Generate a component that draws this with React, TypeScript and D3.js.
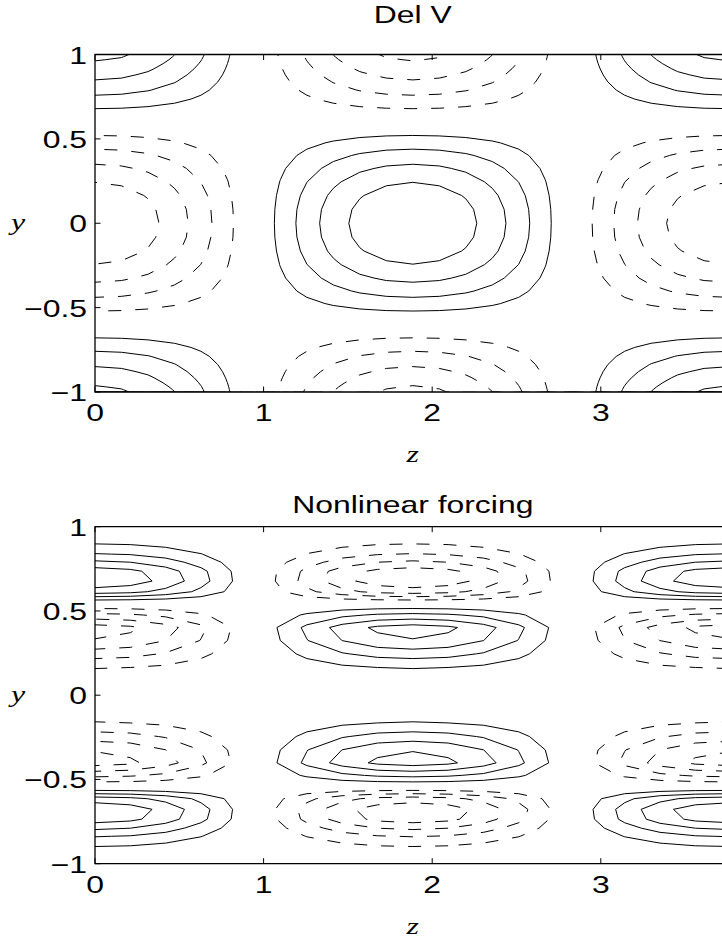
import React from "react";
import * as d3 from "d3";

// ---- data ----
const Z_MAX = 1.2 * Math.PI; // axis length in z (pattern centres at 0, 1.885, 3.77)
const PERIOD = 1.2 * Math.PI; // wavelength of the pattern in z
const LEVELS = [-0.8, -0.6, -0.4, -0.2, 0.2, 0.4, 0.6, 0.8];

// Del V : value along z = 0 as a function of |y|
const TOP_Y = [0, 0.1, 0.2, 0.243, 0.351, 0.44, 0.52, 0.6, 0.679, 0.758, 0.849, 0.962, 1.0];
const TOP_V = [-1, -0.966, -0.865, -0.8, -0.6, -0.4, -0.2, 0, 0.2, 0.4, 0.6, 0.8, 0.853];

// Nonlinear forcing : value along z = 0 as a function of |y|
const BOT_Y = [0, 0.1, 0.16, 0.219, 0.272, 0.33, 0.395, 0.427, 0.45, 0.487, 0.522, 0.545, 0.569, 0.582, 0.6, 0.634, 0.705, 0.757, 0.797, 0.84, 0.897, 0.95, 1.0];
const BOT_V = [0, -0.078, -0.2, -0.4, -0.6, -0.8, -0.9, -0.8, -0.6, -0.4, -0.2, 0, 0.2, 0.4, 0.6, 0.8, 1.0, 0.8, 0.6, 0.4, 0.2, 0.07, 0];

const TOP_NZ = 25;
const BOT_NZ = 19;
const NY = 39;

const Y_TICKS = [-1, -0.5, 0, 0.5, 1];
const Y_TICK_LABELS = ["\u22121", "\u22120.5", "0", "0.5", "1"];
const Z_TICKS = [0, 1, 2, 3];
const Z_TICK_LABELS = ["0", "1", "2", "3"];
const TITLES = ["Del V", "Nonlinear forcing"];

// ---- helpers ----
function makeInterp(xs: number[], ys: number[], s0: number | null, s1: number | null) {
  const n = xs.length;
  const d: number[] = [];
  for (let i = 0; i < n - 1; i++) d.push((ys[i + 1] - ys[i]) / (xs[i + 1] - xs[i]));
  const m: number[] = new Array(n).fill(0);
  m[0] = s0 === null ? d[0] : s0;
  m[n - 1] = s1 === null ? d[n - 2] : s1;
  for (let i = 1; i < n - 1; i++) {
    m[i] = d[i - 1] * d[i] <= 0 ? 0 : (d[i - 1] + d[i]) / 2;
  }
  for (let i = 0; i < n - 1; i++) {
    if (d[i] === 0) { m[i] = 0; m[i + 1] = 0; continue; }
    const a = m[i] / d[i], b = m[i + 1] / d[i];
    const s = a * a + b * b;
    if (s > 9) {
      const t = 3 / Math.sqrt(s);
      m[i] = t * a * d[i];
      m[i + 1] = t * b * d[i];
    }
  }
  return (x: number) => {
    if (x <= xs[0]) return ys[0];
    if (x >= xs[n - 1]) return ys[n - 1];
    let i = 0;
    while (i < n - 2 && x > xs[i + 1]) i++;
    const h = xs[i + 1] - xs[i];
    const t = (x - xs[i]) / h;
    const t2 = t * t, t3 = t2 * t;
    return (2 * t3 - 3 * t2 + 1) * ys[i] + (t3 - 2 * t2 + t) * h * m[i] + (-2 * t3 + 3 * t2) * ys[i + 1] + (t3 - t2) * h * m[i + 1];
  };
}

const yNodes = d3.range(NY).map((j) => Math.cos((Math.PI * j) / (NY - 1)));

function buildGrid(nz: number, prof: (y: number) => number) {
  const vals: number[] = new Array(nz * NY);
  const dz = Z_MAX / (nz - 1);
  for (let j = 0; j < NY; j++) {
    const p = prof(Math.abs(yNodes[j]));
    for (let i = 0; i < nz; i++) {
      vals[i + j * nz] = Math.cos((2 * Math.PI * i * dz) / PERIOD) * p;
    }
  }
  return vals;
}

function yAtIndex(f: number) {
  if (f <= 0) return yNodes[0] + (yNodes[1] - yNodes[0]) * f;
  if (f >= NY - 1) return yNodes[NY - 1] + (yNodes[NY - 1] - yNodes[NY - 2]) * (f - (NY - 1));
  const j = Math.floor(f);
  return yNodes[j] + (yNodes[j + 1] - yNodes[j]) * (f - j);
}

const W = 722;
const H = 943;
const X0 = 95;
const PX_PER_Z = 168.6;
const SX = 1.33; // horizontal stretch of the text in the picture
const PANELS = [
  { top: 54.5, h: 337.5, nz: TOP_NZ, ys: TOP_Y, vs: TOP_V, titleY: 23, tickLabelY: 421, zLabelY: 462, yLabelY: 230 },
  { top: 526.7, h: 337, nz: BOT_NZ, ys: BOT_Y, vs: BOT_V, titleY: 513, tickLabelY: 893, zLabelY: 934, yLabelY: 702 },
];

const FONT = "'Liberation Sans', Arial, Helvetica, sans-serif";
const SERIF = "'Liberation Serif', 'Times New Roman', serif";

function T({ x, y, anchor, serif, children }: { x: number; y: number; anchor: string; serif?: boolean; children: React.ReactNode }) {
  return (
    <text
      transform={`translate(${x},${y}) scale(${SX},1)`}
      textAnchor={anchor}
      fontFamily={serif ? SERIF : FONT}
      fontStyle={serif ? "italic" : "normal"}
      fontSize={24}
      fill="#000"
    >
      {children}
    </text>
  );
}

function Panel({ p, idx }: { p: typeof PANELS[0]; idx: number }) {
  const x = d3.scaleLinear().domain([0, Z_MAX]).range([X0, X0 + Z_MAX * PX_PER_Z]);
  const y = d3.scaleLinear().domain([-1, 1]).range([p.top + p.h, p.top]);
  const prof = makeInterp(p.ys, p.vs, 0, null);
  const vals = buildGrid(p.nz, prof);
  const dz = Z_MAX / (p.nz - 1);
  const contours = d3.contours().size([p.nz, NY]).thresholds(LEVELS)(vals);
  const clipId = `clip${idx}`;
  const paths = contours.map((c) => {
    let d = "";
    for (const poly of c.coordinates) {
      for (const ring of poly) {
        ring.forEach((pt, k) => {
          const zz = (pt[0] - 0.5) * dz;
          const yy = yAtIndex(pt[1] - 0.5);
          d += (k === 0 ? "M" : "L") + x(zz).toFixed(2) + "," + y(yy).toFixed(2);
        });
      }
    }
    return { d, value: c.value };
  });
  const x1 = x(Z_MAX);
  const yT = p.top, yB = p.top + p.h;
  const tick = 5.5;
  const xc = (X0 + x1) / 2;
  return (
    <g>
      <defs>
        <clipPath id={clipId}>
          <rect x={X0} y={yT} width={x1 - X0} height={p.h} />
        </clipPath>
      </defs>
      <g clipPath={`url(#${clipId})`}>
        {paths.map((pp, i) => (
          <path key={i} d={pp.d} fill="none" stroke="#000" strokeWidth={1}
            strokeDasharray={pp.value < 0 ? "13,14" : undefined} />
        ))}
      </g>
      {/* frame */}
      <path d={`M${x1},${yT}H${X0}V${yB}H${x1}V${yT}`} fill="none" stroke="#000" strokeWidth={1.3} />
      {Y_TICKS.map((t) => (
        <g key={"y" + t}>
          <line x1={X0} x2={X0 + tick} y1={y(t)} y2={y(t)} stroke="#000" strokeWidth={1} />
          <line x1={x1} x2={x1 - tick} y1={y(t)} y2={y(t)} stroke="#000" strokeWidth={1} />
        </g>
      ))}
      {Z_TICKS.map((t) => (
        <g key={"z" + t}>
          <line x1={x(t)} x2={x(t)} y1={yB} y2={yB - tick} stroke="#000" strokeWidth={1} />
          <line x1={x(t)} x2={x(t)} y1={yT} y2={yT + tick} stroke="#000" strokeWidth={1} />
        </g>
      ))}
      {Y_TICKS.map((t, i) => (
        <T key={"yl" + t} x={87} y={y(t) + 9} anchor="end">{Y_TICK_LABELS[i]}</T>
      ))}
      {Z_TICKS.map((t, i) => (
        <T key={"zl" + t} x={x(t)} y={p.tickLabelY} anchor="middle">{Z_TICK_LABELS[i]}</T>
      ))}
      <T x={xc} y={p.titleY} anchor="middle">{TITLES[idx]}</T>
      <T x={xc} y={p.zLabelY} anchor="middle" serif>z</T>
      <T x={18} y={p.yLabelY} anchor="middle" serif>y</T>
    </g>
  );
}

export default function App() {
  return (
    <svg width={W} height={H} style={{ position: "absolute", left: 0, top: 0, background: "#fff" }}>
      <rect x={0} y={0} width={W} height={H} fill="#fff" />
      {PANELS.map((p, i) => (
        <Panel key={i} p={p} idx={i} />
      ))}
    </svg>
  );
}
